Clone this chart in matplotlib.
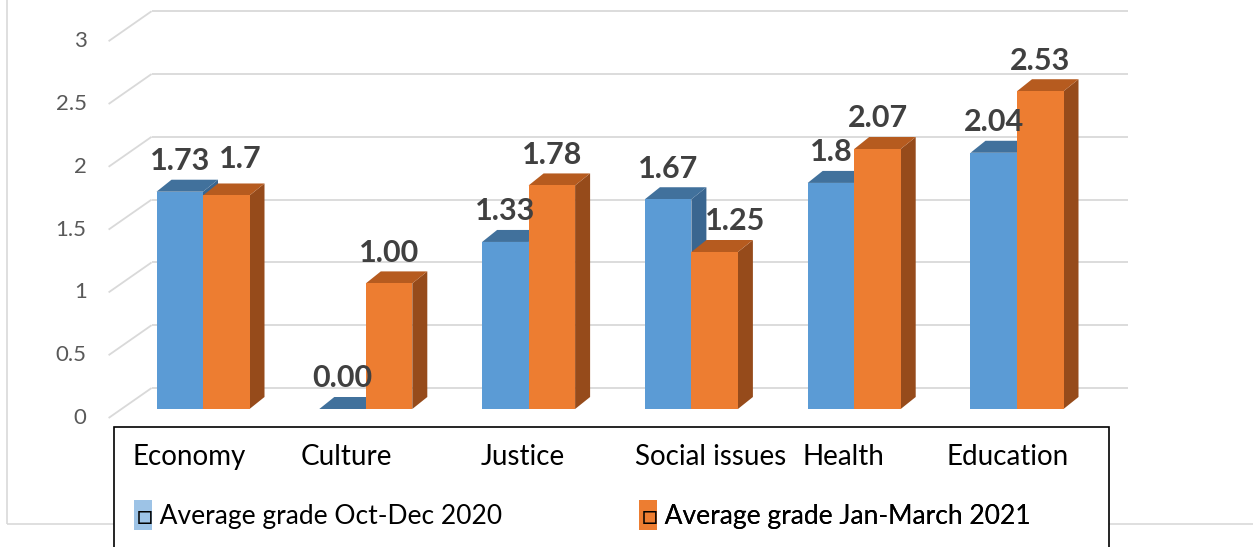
"""
Average grade per topic, two periods, drawn as 3D-style clustered bars.
"""
import matplotlib
matplotlib.use('Agg')
import matplotlib.pyplot as plt
from matplotlib.patches import Patch, Rectangle

# Data
categories = ['Economy', 'Culture', 'Justice', 'Social issues', 'Health',
              'Education']
series_names = ['Average grade Oct-Dec 2020', 'Average grade Jan-March 2021']
grades_2020 = [1.73, 0.00, 1.33, 1.67, 1.80, 2.04]
grades_2021 = [1.70, 1.00, 1.78, 1.25, 2.07, 2.53]
labels_2020 = ['1.73', '0.00', '1.33', '1.67', '1.8', '2.04']
labels_2021 = ['1.7', '1.00', '1.78', '1.25', '2.07', '2.53']
y_ticks = [0, 0.5, 1, 1.5, 2, 2.5, 3]
y_ticklabels = ['0', '0.5', '1', '1.5', '2', '2.5', '3']

# Colours: front, top, side, legend swatch
blue = ('#5B9BD5', '#41719C', '#3A6690', '#9DC3E6')
orange = ('#ED7D31', '#B65B1F', '#964B1B', '#ED7D31')
grid_color = '#D9D9D9'

plt.rcParams['font.family'] = ['Lato', 'DejaVu Sans']

W, H = 1253, 547
fig = plt.figure(figsize=(W / 100, H / 100), dpi=100)
ax = fig.add_axes([0, 0, 1, 1])

# pixel scale of one data unit, origin of the front plane
XS, YS = 162.8, 125.6
X0, Y0 = 203, 409
ax.set_xlim(-X0 / XS, (W - X0) / XS)
ax.set_ylim((Y0 - H) / YS, Y0 / YS)
ax.axis('off')


def px(dx, dy):
    return dx / XS, dy / YS


# depth offsets (relative to the bar front plane)
fx, fy = px(-13, -9)     # floor front edge
bx, by = px(30, 21)      # back wall
ddx, ddy = px(15, 12)    # bar depth
bar_w = 46.5 / XS
x_left, x_right = -0.5, len(categories) - 0.5

# Walls: diagonal lines on the side wall, horizontal ones on the back wall
for v, lab in zip(y_ticks, y_ticklabels):
    ax.plot([x_left + fx, x_left + bx], [v + fy, v + by], color=grid_color,
            lw=1.3, zorder=1, solid_capstyle='butt')
    ax.plot([x_left + bx, x_right + bx], [v + by, v + by], color=grid_color,
            lw=1.3, zorder=1, solid_capstyle='butt')
    ax.text(x_left + fx - 22 / XS, v + fy, lab, ha='right', va='center',
            fontsize=16, color='#595959')


def draw_bar(x0, v, cols, z):
    x1 = x0 + bar_w
    ax.fill([x1, x1 + ddx, x1 + ddx, x1], [0, ddy, v + ddy, v],
            color=cols[2], lw=0, zorder=z)
    ax.fill([x0, x1, x1 + ddx, x0 + ddx], [v, v, v + ddy, v + ddy],
            color=cols[1], lw=0, zorder=z)
    ax.bar(x0, v, width=bar_w, align='edge', color=cols[0], lw=0, zorder=z)


xs = list(range(len(categories)))
for i in xs:
    draw_bar(i - bar_w, grades_2020[i], blue, 2)
for i in xs:
    draw_bar(i, grades_2021[i], orange, 3)

# Data labels (a couple are nudged to avoid overlapping the bars)
nudge_2021 = {0: (10, 4), 3: (15, 0)}
for i in xs:
    ax.annotate(labels_2020[i], (i - bar_w / 2, grades_2020[i]),
                xytext=(0, 22), textcoords='offset points', ha='center',
                va='center', fontsize=22, fontweight='bold',
                color='#404040', zorder=5)
    ndx, ndy = nudge_2021.get(i, (0, 0))
    ax.annotate(labels_2021[i], (i + bar_w / 2, grades_2021[i]),
                xytext=(ndx, 22 + ndy), textcoords='offset points',
                ha='center', va='center', fontsize=22, fontweight='bold',
                color='#404040', zorder=5)

# Outer chart border (light grey) and the black box holding categories+legend
ax.add_patch(Rectangle((7 / W, 23 / H), 2, 2, transform=fig.transFigure,
                       facecolor='none', edgecolor=grid_color, lw=1.2,
                       zorder=0, clip_on=False))
ax.add_patch(Rectangle((114 / W, -0.1), (1109 - 114) / W, 0.1 + 120 / H,
                       transform=fig.transFigure, facecolor='white',
                       edgecolor='black', lw=1.2, zorder=6, clip_on=False))

cat_nudge = [-14, -19, -6, 19, -11, -9]
for i, name in enumerate(categories):
    ax.text(i + cat_nudge[i] / XS, (Y0 - 457) / YS, name, ha='center',
            va='center', fontsize=20, color='black', zorder=7)

for x_px, name, cols in zip([134, 639], series_names, [blue, orange]):
    leg = ax.legend(handles=[Patch(facecolor=cols[3], lw=0)],
                    labels=['\u25a1 ' + name], loc='center left',
                    bbox_to_anchor=(x_px / W, 1 - 515 / H),
                    bbox_transform=fig.transFigure, frameon=False,
                    borderpad=0, borderaxespad=0, fontsize=19,
                    handlelength=0.68, handleheight=1.37,
                    handletextpad=-0.58)
    leg.set_zorder(8)
    ax.add_artist(leg)

fig.savefig('out.png', dpi=100)
